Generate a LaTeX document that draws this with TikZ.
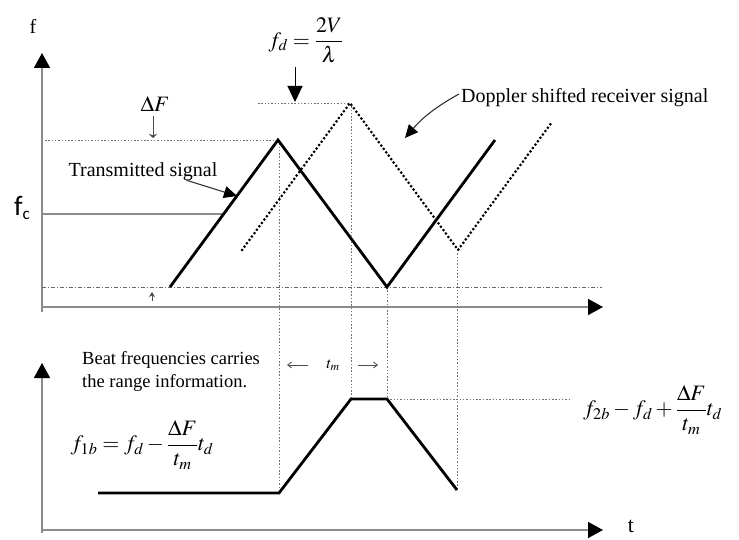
\documentclass[tikz,border=0pt]{standalone}
\usepackage{amsmath}
\usepackage{mathptmx}
\usepackage{fontspec}
\setmainfont{Liberation Serif}
\newfontfamily\carlito{Carlito}
\usetikzlibrary{arrows.meta}
\begin{document}
\begin{tikzpicture}[x=1pt,y=-1pt,
  axis/.style={draw=black!45,line width=1.6pt,-{Triangle[width=16pt,length=15pt,color=black]}},
  axisline/.style={draw=black!45,line width=1.6pt},
  sig/.style={draw=black,line width=2.8pt,line join=miter},
  rx/.style={draw=black,line width=3pt,line cap=round,dash pattern=on 0pt off 4.2pt},
  guide/.style={draw=black!55,line width=0.7pt,dash pattern=on 1.5pt off 1.8pt},
  dashdotline/.style={draw=black!60,line width=0.9pt,dash pattern=on 4pt off 2pt on 1pt off 2pt},
  lbl/.style={inner sep=0pt,font=\fontsize{20}{24}\selectfont},
  eq/.style={inner sep=0pt,font=\fontsize{22}{26}\selectfont},
  callout/.style={draw=black!80,line width=1.1pt,-{Triangle[width=12pt,length=13pt,color=black]}}
]
\useasboundingbox (0,0) rectangle (739,540);

% ---------- upper graph ----------
\draw[axis] (42,312) -- (42,53);
\draw[axis] (42,307) -- (603,307);
\node[inner sep=0pt,font=\fontsize{20}{22}\selectfont] (fy) at (33,26) {f};
\node[inner sep=0pt,font=\fontsize{28}{30}\carlito] (fc) at (22,208) {f\raisebox{-4pt}{\fontsize{17}{17}\selectfont c}};

% guide lines
\draw[dashdotline] (42,287) -- (602,287);
\draw[guide] (45,140) -- (278,140);
\draw[guide] (258,103) -- (350,103);
\draw[guide] (279,140) -- (279,493);
\draw[guide] (351,103) -- (351,399);
\draw[guide] (387,287) -- (387,399);
\draw[guide] (457,250) -- (457,490);
\draw[guide] (387,399) -- (570,399);

% fc level
\draw[axisline,line width=1.3pt] (42,214) -- (223.6,214);

% transmitted signal
\coordinate (t0) at (170,287);
\coordinate (t1) at (278,140);
\coordinate (t2) at (387,287);
\coordinate (t3) at (495,140);
\draw[sig] (t0) -- (t1) -- (t2) -- (t3);

% received signal
\coordinate (r0) at (242,250);
\coordinate (r1) at (350,103);
\coordinate (r2) at (458,250);
\coordinate (r3) at (552,122);
\draw[rx] (r0) -- (r1) -- (r2) -- (r3);

% labels and callouts
\node[lbl] (ts) at (143,172) {Transmitted signal};
\coordinate (tstip) at (237,196);
\draw[callout] ([xshift=-31pt,yshift=1pt]ts.south east) -- (tstip);

\node[lbl,anchor=west] (dop) at (461,98) {Doppler shifted receiver signal};
\coordinate (doptip) at (405,138);
\draw[callout] ([xshift=-2pt,yshift=4pt]dop.west) to[bend right=10] (doptip);

\node[eq] (dF) at (155,104) {$\Delta F$};
\coordinate (dFtip) at (153,138);
\draw[draw=black!70,line width=0.8pt,-{Stealth[width=8pt,length=4pt]}] (153,116) -- (dFtip);

\node[eq] (fd) at (306,40) {$f_d=\dfrac{2V}{\lambda}$};
\coordinate (fdtip) at (295,102);
\draw[draw=black,line width=1pt,-{Triangle[width=15pt,length=16pt]}] (295,67) -- (fdtip);

\coordinate (small) at (152,292);
\draw[draw=black!70,line width=0.8pt,-{Stealth[width=6pt,length=5pt]}] (152,301) -- (small);

% ---------- lower graph ----------
\draw[axis] (42,533) -- (42,363);
\draw[axis] (42,530) -- (603,530);
\node[inner sep=0pt,font=\fontsize{22}{24}\selectfont] (tl) at (631,526) {t};

\node[inner sep=0pt,anchor=west,align=left,font=\fontsize{18.5}{23}\selectfont] (beat) at (82,371)
  {Beat frequencies carries\\the range information.};

\node[inner sep=0pt,font=\fontsize{16}{18}\selectfont] (tm) at (333,365) {$t_m$};
\coordinate (tmL) at (287,365);
\coordinate (tmR) at (378,365);
\draw[draw=black!70,line width=0.8pt,-{Straight Barb[length=4pt,width=6pt]}] ([xshift=-18pt]tm.west) -- (tmL);
\draw[draw=black!70,line width=0.8pt,-{Straight Barb[length=4pt,width=6pt]}] ([xshift=18pt]tm.east) -- (tmR);

\coordinate (b0) at (98,493);
\coordinate (b1) at (279,493);
\coordinate (b2) at (351,399);
\coordinate (b3) at (387,399);
\coordinate (b4) at (457,490);
\draw[sig] (b0) -- (b1) -- (b2) -- (b3) -- (b4);

\node[eq] (f1b) at (142,445) {$f_{1b}=f_d-\dfrac{\Delta F}{t_m}t_d$};
\node[eq,anchor=west] (f2b) at (583,410) {$f_{2b}-f_d+\dfrac{\Delta F}{t_m}t_d$};
\end{tikzpicture}
\end{document}
